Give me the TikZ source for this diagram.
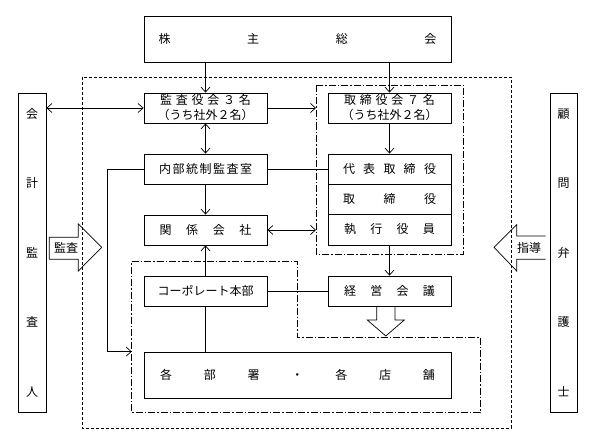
\documentclass[tikz,border=0pt]{standalone}
\usepackage{fontspec}
\newfontfamily\jp{Noto Sans CJK JP}
\usetikzlibrary{arrows.meta}
\newcommand{\spr}[2]{\makebox[#1][s]{#2}}
\begin{document}
\begin{tikzpicture}[x=1pt,y=-1pt,
  box/.style={draw,line width=0.8pt,rectangle,inner sep=0pt,font=\jp\fontsize{12}{15}\selectfont,align=center},
  vbox/.style={box,font=\jp\fontsize{12}{69.5}\selectfont},
  lbl/.style={inner sep=0pt,font=\jp\fontsize{12}{12}\selectfont},
  ln/.style={line width=0.7pt},
  arr/.style={ln,-{Straight Barb[length=5pt,width=9pt]}},
  darr/.style={ln,{Straight Barb[length=5pt,width=9pt]}-{Straight Barb[length=5pt,width=9pt]}},
  dashout/.style={line width=0.7pt,dash pattern=on 3pt off 2pt},
  dashdot/.style={line width=0.7pt,dash pattern=on 7pt off 2pt on 1.5pt off 2pt}]
\useasboundingbox (0,0) rectangle (595,444);

% group frames
\draw[dashout] (82,77) rectangle (511,428);
\draw[dashdot] (316,85) rectangle (463,254);
\draw[dashdot] (131.7,261) -- (297.7,261) -- (297.7,337) -- (480,337) -- (480,412.7) -- (131.7,412.7) -- cycle;
\coordinate (grpW) at (316,0);
\coordinate (bgrpW) at (131.7,0);
\coordinate (xL) at (107,0);

% nodes
\node[box,minimum width=307pt,minimum height=46pt] (soukai) at (297.5,39) {\spr{278pt}{株\hfill 主\hfill 総\hfill 会}};
\node[box,minimum width=123pt,minimum height=30pt] (kansayaku) at (205.5,108) {\spr{91pt}{監\hfill 査\hfill 役\hfill 会\hfill ３\hfill 名}\\（うち社外２名）};
\node[box,minimum width=123pt,minimum height=30pt] (torishimari) at (389.5,108) {\spr{91pt}{取\hfill 締\hfill 役\hfill 会\hfill ７\hfill 名}\\（うち社外２名）};
\node[box,minimum width=123pt,minimum height=30pt] (naibu) at (205.5,169) {\spr{93pt}{内\hfill 部\hfill 統\hfill 制\hfill 監\hfill 査\hfill 室}};
\node[box,minimum width=123pt,minimum height=30pt] (daihyo) at (389.5,169) {\spr{93pt}{代\hfill 表\hfill 取\hfill 締\hfill 役}};
\node[box,minimum width=123pt,minimum height=30pt] (tori) at (389.5,199) {\spr{93pt}{取\hfill 締\hfill 役}};
\node[box,minimum width=123pt,minimum height=31pt] (shikko) at (389.5,229.5) {\spr{91pt}{執\hfill 行\hfill 役\hfill 員}};
\node[box,minimum width=123pt,minimum height=30pt] (kankei) at (205.5,230) {\spr{92pt}{関\hfill 係\hfill 会\hfill 社}};
\node[box,minimum width=123pt,minimum height=30pt] (keiei) at (389.5,291) {\spr{91pt}{経\hfill 営\hfill 会\hfill 議}};
\node[box,minimum width=123pt,minimum height=30pt] (corp) at (205.5,291) {コーポレート本部};
\node[box,minimum width=307pt,minimum height=46pt] (kakubu) at (297.5,375) {\spr{275pt}{各\hfill 部\hfill 署\hfill ・\hfill 各\hfill 店\hfill 舗}};
\node[vbox,minimum width=28pt,minimum height=319pt] (kaikei) at (32,252.5) {会\\計\\監\\査\\人};
\node[vbox,minimum width=27pt,minimum height=319pt] (komon) at (563.5,252.5) {顧\\問\\弁\\護\\士};

% hollow arrows
\draw[ln] (49.3,237.3) -- (78.3,237.3) -- (78.3,224) -- (101.7,247.3) -- (78.3,271) -- (78.3,259.3) -- (49.3,259.3) -- cycle;
\node[lbl] (kansaL) at (66,248) {監査};
\draw[ln] (545.7,236) -- (516.7,236) -- (516.7,224.7) -- (494,247.3) -- (516.7,271) -- (516.7,259.3) -- (545.7,259.3);
\node[lbl] (shidoL) at (529,247.5) {指導};
\draw[ln] (376.7,306) -- (376.7,320) -- (367.3,320) -- (385.8,336) -- (404.3,320) -- (395,320) -- (395,306);

% connectors
\draw[arr] (soukai.south -| kansayaku.north) -- (kansayaku.north);
\draw[arr] (soukai.south -| torishimari.north) -- (torishimari.north);
\draw[darr] (kaikei.east |- kansayaku.west) -- (kansayaku.west);
\draw[arr] (kansayaku.east) -- (kansayaku.east -| grpW);
\draw[darr] (kansayaku.south) -- (naibu.north);
\draw[arr] (naibu.south) -- (kankei.north);
\draw[ln] (naibu.east) -- (daihyo.west);
\draw[arr] (naibu.west) -- (naibu.west -| xL) |- (kakubu.north west -| bgrpW);
\draw[arr] (torishimari.south) -- (daihyo.north);
\draw[darr] (kankei.east) -- (kankei.east -| grpW);
\draw[arr] (shikko.south) -- (keiei.north);
\draw[arr] (corp.north) -- (kankei.south);
\draw[ln] (corp.east) -- (keiei.west);
\draw[ln] (corp.south) -- (kakubu.north -| corp.south);
\end{tikzpicture}
\end{document}
